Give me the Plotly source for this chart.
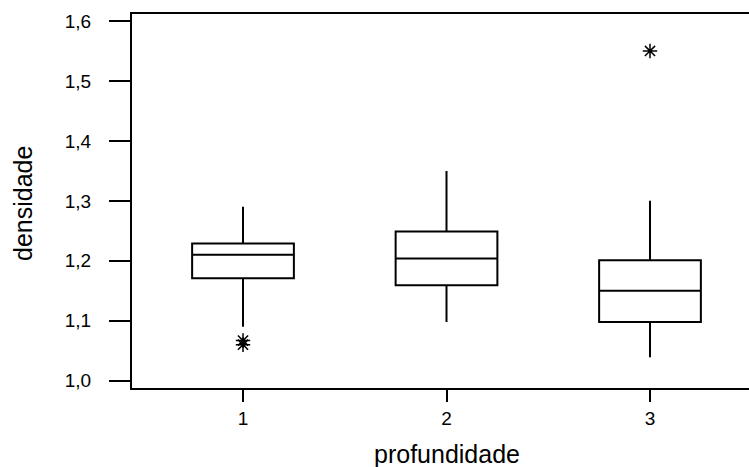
import plotly.graph_objects as go

groups = [1, 2, 3]
q1 = [1.171, 1.159, 1.098]
median = [1.210, 1.204, 1.150]
q3 = [1.229, 1.249, 1.201]
lower_whisker = [1.090, 1.098, 1.039]
upper_whisker = [1.290, 1.350, 1.300]

outlier_x = [1, 1, 3]
outlier_y = [1.067, 1.060, 1.550]

y_tickvals = [1.0, 1.1, 1.2, 1.3, 1.4, 1.5, 1.6]
y_ticktext = ["1,0", "1,1", "1,2", "1,3", "1,4", "1,5", "1,6"]
x_tickvals = [1, 2, 3]
x_ticktext = ["1", "2", "3"]

FONT = "Liberation Sans, Arial, sans-serif"

fig = go.Figure()
for i, g in enumerate(groups):
    fig.add_trace(go.Box(
        x=[g], q1=[q1[i]], median=[median[i]], q3=[q3[i]],
        lowerfence=[lower_whisker[i]], upperfence=[upper_whisker[i]],
        width=0.5, whiskerwidth=0, boxpoints=False,
        fillcolor="rgba(255,255,255,0)",
        line=dict(color="black", width=2),
        showlegend=False, hoverinfo="skip",
    ))

fig.add_trace(go.Scatter(
    x=outlier_x, y=outlier_y, mode="markers",
    marker=dict(symbol="asterisk-open", size=12, color="black",
                line=dict(color="black", width=1.5)),
    showlegend=False, hoverinfo="skip",
))

fig.update_layout(
    width=749, height=467,
    margin=dict(l=132, r=0, t=14, b=79),
    plot_bgcolor="white", paper_bgcolor="white",
    font=dict(family=FONT, color="black"),
    xaxis=dict(
        range=[0.4545, 3.4865], tickvals=x_tickvals, ticktext=x_ticktext,
        showgrid=False, zeroline=False, showline=True, linecolor="black",
        linewidth=2, mirror=True, ticks="outside", ticklen=12, tickwidth=2,
        tickcolor="black", tickfont=dict(size=19, family=FONT, color="black"),
    ),
    yaxis=dict(
        range=[0.9878, 1.6117], tickvals=y_tickvals, ticktext=y_ticktext,
        showgrid=False, zeroline=False, showline=True, linecolor="black",
        linewidth=2, ticks="outside", ticklen=21, tickwidth=2,
        tickcolor="black", tickfont=dict(size=19, family=FONT, color="black"),
        ticklabelstandoff=14,
    ),
    annotations=[
        dict(text="profundidade", xref="x", yref="paper", x=2, y=0,
             xanchor="center", yanchor="middle", yshift=-66, showarrow=False,
             font=dict(size=25, family=FONT, color="black")),
        dict(text="densidade", xref="paper", yref="paper", x=0, y=0.5,
             xanchor="center", yanchor="middle", xshift=-109, yshift=-3,
             textangle=-90, showarrow=False,
             font=dict(size=25, family=FONT, color="black")),
    ],
)

fig.write_html("out.html")
